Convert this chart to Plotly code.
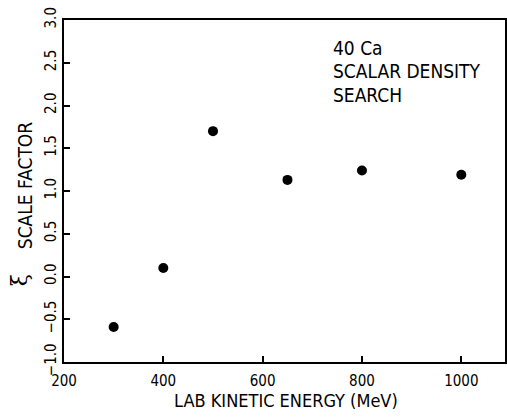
import plotly.graph_objects as go

energy_mev = [300, 400, 500, 650, 800, 1000]
scale_factor = [-0.59, 0.10, 1.70, 1.13, 1.24, 1.19]
x_ticks = [200, 400, 600, 800, 1000]
y_ticks = [-1.0, -0.5, 0.0, 0.5, 1.0, 1.5, 2.0, 2.5, 3.0]
y_tick_text = ["\u22121.0", "\u22120.5", "0.0", "0.5", "1.0", "1.5", "2.0", "2.5", "3.0"]
note_lines = ["40 Ca", "SCALAR DENSITY", "SEARCH"]

FONT = "Liberation Sans Narrow, DejaVu Sans Condensed, Arial Narrow, sans-serif"

fig = go.Figure()
fig.add_trace(go.Scatter(
    x=energy_mev, y=scale_factor, mode="markers",
    marker=dict(color="black", size=10, line=dict(width=0)),
    showlegend=False,
))

W, H = 507, 418
ml, mt, mb, mr = 64, 20, 56, 0
pw, ph = W - ml - mr, H - mt - mb

def px(xp):
    return (xp - ml) / pw

def py(yp):
    return (H - mb - yp) / ph

fig.update_layout(
    width=W, height=H,
    margin=dict(l=ml, r=mr, t=mt, b=mb),
    paper_bgcolor="white", plot_bgcolor="white",
    font=dict(family=FONT, color="black", size=15),
    xaxis=dict(
        range=[200, 1088], tickvals=x_ticks, ticktext=[str(v) for v in x_ticks],
        ticks="inside", ticklen=6, tickwidth=1.5, tickcolor="black",
        showline=True, linewidth=2, linecolor="black", mirror=True,
        showgrid=False, zeroline=False, ticklabelstandoff=4,
        tickfont=dict(size=15, family=FONT),
    ),
    yaxis=dict(
        range=[-1.0, 3.0], tickvals=y_ticks, ticktext=y_tick_text,
        ticks="inside", ticklen=6, tickwidth=1.5, tickcolor="black",
        showline=True, linewidth=2, linecolor="black", mirror=True,
        showgrid=False, zeroline=False, tickangle=-90,
        tickfont=dict(size=15, family=FONT),
    ),
)

annots = []
annots.append(dict(text="LAB KINETIC ENERGY (MeV)", x=px(287), y=py(400),
                   xanchor="center", yanchor="middle", font=dict(size=18)))
annots.append(dict(text="SCALE FACTOR", x=px(25), y=py(185), textangle=-90,
                   xanchor="center", yanchor="middle", font=dict(size=19)))
annots.append(dict(text="\u03be", x=px(19), y=py(280), textangle=-90,
                   xanchor="center", yanchor="middle", font=dict(size=22, family="DejaVu Serif")))
for i, line in enumerate(note_lines):
    annots.append(dict(text=line, x=px(332), y=py(48 + 23.3 * i),
                       xanchor="left", yanchor="middle", font=dict(size=19)))
for a in annots:
    a.update(xref="paper", yref="paper", showarrow=False)
fig.update_layout(annotations=annots)

fig.write_html("out.html")
